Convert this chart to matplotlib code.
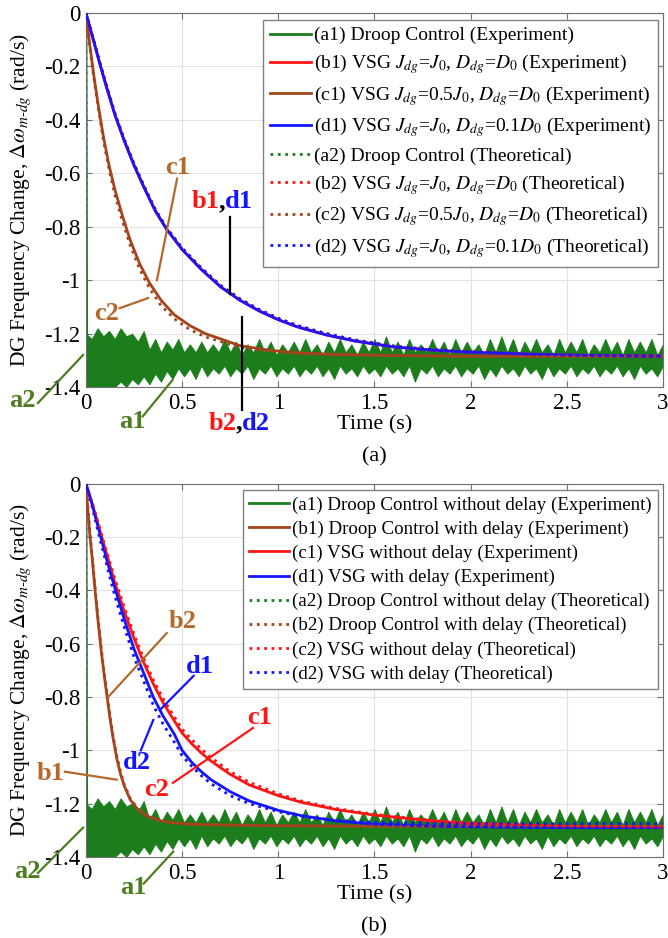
import numpy as np
import matplotlib
matplotlib.use("Agg")
import matplotlib.pyplot as plt

plt.rcParams['font.family'] = ['Liberation Serif', 'DejaVu Serif']
plt.rcParams['mathtext.fontset'] = 'stix'
plt.rcParams['axes.unicode_minus'] = False

# ---- data ----
# droop control experiment (same record in both panels): band envelope, 0.03 s step
a1_t = np.linspace(0, 3, 101)
a1_upper = [-1.20, -1.22, -1.18, -1.21, -1.19, -1.22, -1.18, -1.21, -1.20, -1.23, -1.19,
            -1.26, -1.22, -1.27, -1.23, -1.26, -1.22, -1.27, -1.24, -1.27, -1.23,
            -1.27, -1.24, -1.27, -1.22, -1.27, -1.23, -1.28, -1.24, -1.27, -1.22,
            -1.27, -1.23, -1.28, -1.24, -1.27, -1.23, -1.27, -1.22, -1.27, -1.24,
            -1.28, -1.23, -1.27, -1.22, -1.27, -1.24, -1.28, -1.23, -1.27, -1.22,
            -1.27, -1.21, -1.27, -1.23, -1.28, -1.22, -1.27, -1.24, -1.27, -1.22,
            -1.27, -1.23, -1.28, -1.22, -1.27, -1.23, -1.27, -1.24, -1.28, -1.22,
            -1.27, -1.21, -1.27, -1.22, -1.28, -1.23, -1.27, -1.22, -1.27, -1.24,
            -1.28, -1.22, -1.27, -1.23, -1.27, -1.22, -1.28, -1.24, -1.27, -1.22,
            -1.27, -1.23, -1.28, -1.22, -1.27, -1.23, -1.27, -1.22, -1.28, -1.24]
a1_lower = [-1.40, -1.40, -1.40, -1.40, -1.40, -1.40, -1.38, -1.40, -1.37, -1.39, -1.36,
            -1.39, -1.35, -1.38, -1.34, -1.37, -1.33, -1.36, -1.33, -1.37, -1.32,
            -1.36, -1.33, -1.35, -1.32, -1.36, -1.33, -1.35, -1.32, -1.37, -1.33,
            -1.35, -1.32, -1.36, -1.33, -1.35, -1.32, -1.36, -1.33, -1.35, -1.32,
            -1.36, -1.33, -1.37, -1.32, -1.35, -1.33, -1.36, -1.32, -1.35, -1.33,
            -1.36, -1.32, -1.35, -1.33, -1.36, -1.32, -1.38, -1.33, -1.35, -1.32,
            -1.36, -1.33, -1.35, -1.32, -1.36, -1.33, -1.35, -1.32, -1.37, -1.33,
            -1.36, -1.32, -1.35, -1.33, -1.36, -1.32, -1.35, -1.33, -1.37, -1.32,
            -1.36, -1.33, -1.35, -1.32, -1.36, -1.33, -1.35, -1.32, -1.36, -1.33,
            -1.35, -1.32, -1.36, -1.33, -1.37, -1.32, -1.35, -1.33, -1.36, -1.32]
a1_step_t = [0.0, 0.004]
a1_step_v = [0.0, -1.30]
a2_t = [0.0, 0.002, 3.0]
a2_v = [0.0, -1.285, -1.285]

# panel (a)
ta_bd = [0, 0.04, 0.076, 0.11, 0.15, 0.2, 0.25, 0.3, 0.36, 0.42, 0.5, 0.6, 0.7, 0.8, 0.9,
         1.0, 1.1, 1.25, 1.4, 1.6, 1.8, 2.0, 2.3, 2.6, 3.0]
a_b1 = [0, -0.105, -0.2, -0.285, -0.38, -0.48, -0.57, -0.65, -0.74, -0.81, -0.885, -0.96,
        -1.025, -1.075, -1.115, -1.148, -1.175, -1.205, -1.228, -1.25, -1.262, -1.27,
        -1.277, -1.282, -1.285]
a_d1 = a_b1
a_b2 = [0, -0.1, -0.195, -0.28, -0.375, -0.475, -0.565, -0.645, -0.735, -0.805, -0.88,
        -0.955, -1.02, -1.07, -1.11, -1.143, -1.17, -1.2, -1.224, -1.247, -1.26, -1.268,
        -1.276, -1.281, -1.284]
a_d2 = a_b2
ta_c = [0, 0.02, 0.04, 0.065, 0.09, 0.12, 0.15, 0.19, 0.23, 0.28, 0.33, 0.39, 0.46, 0.54,
        0.62, 0.7, 0.8, 0.95, 1.1, 1.3, 1.6, 2.0, 3.0]
a_c1 = [0, -0.12, -0.23, -0.35, -0.46, -0.57, -0.66, -0.76, -0.85, -0.94, -1.01, -1.075,
        -1.13, -1.17, -1.2, -1.22, -1.245, -1.262, -1.272, -1.278, -1.282, -1.285, -1.285]
a_c2 = [0, -0.125, -0.24, -0.36, -0.475, -0.585, -0.68, -0.78, -0.87, -0.96, -1.03, -1.095,
        -1.145, -1.185, -1.212, -1.23, -1.252, -1.266, -1.275, -1.28, -1.283, -1.285, -1.285]

# panel (b)
tb_b = [0, 0.01, 0.02, 0.035, 0.05, 0.065, 0.08, 0.095, 0.11, 0.125, 0.14, 0.16, 0.18,
        0.2, 0.23, 0.27, 0.32, 0.385, 0.45, 0.55, 0.7, 1.0, 1.5, 2.0, 3.0]
b_b1 = [0, -0.1, -0.19, -0.3, -0.42, -0.53, -0.63, -0.72, -0.8, -0.88, -0.95, -1.03,
        -1.09, -1.135, -1.185, -1.222, -1.248, -1.264, -1.272, -1.278, -1.28, -1.283,
        -1.285, -1.285, -1.285]
b_b2 = [0, -0.09, -0.18, -0.29, -0.41, -0.52, -0.62, -0.71, -0.79, -0.87, -0.94, -1.02,
        -1.08, -1.13, -1.18, -1.22, -1.246, -1.262, -1.27, -1.276, -1.279, -1.282,
        -1.284, -1.285, -1.285]
tb_cd = [0, 0.03, 0.07, 0.11, 0.15, 0.2, 0.25, 0.3, 0.35, 0.4, 0.46, 0.5, 0.55, 0.6, 0.65,
         0.75, 0.85, 1.0, 1.12, 1.3, 1.5, 1.8, 2.0, 2.5, 3.0]
b_c1 = [0, -0.07, -0.17, -0.27, -0.37, -0.48, -0.58, -0.67, -0.75, -0.82, -0.89, -0.935,
        -0.975, -1.01, -1.04, -1.09, -1.13, -1.17, -1.195, -1.222, -1.243, -1.265, -1.275,
        -1.286, -1.29]
b_c2 = [0, -0.065, -0.16, -0.26, -0.355, -0.465, -0.565, -0.655, -0.735, -0.805, -0.875,
        -0.92, -0.96, -0.995, -1.027, -1.08, -1.12, -1.163, -1.19, -1.218, -1.24, -1.262,
        -1.273, -1.284, -1.288]
b_d1 = [0, -0.07, -0.18, -0.29, -0.39, -0.51, -0.62, -0.71, -0.8, -0.87, -0.94, -1.0,
        -1.045, -1.08, -1.11, -1.155, -1.19, -1.225, -1.245, -1.265, -1.277, -1.284,
        -1.287, -1.29, -1.29]
b_d2 = [0, -0.08, -0.2, -0.31, -0.42, -0.54, -0.65, -0.74, -0.83, -0.9, -0.97, -1.02,
        -1.06, -1.095, -1.125, -1.17, -1.2, -1.23, -1.248, -1.262, -1.27, -1.274, -1.275,
        -1.275, -1.275]

labels_a = ['(a1) Droop Control (Experiment)',
            r'(b1) VSG $J_{dg}$=$J_0$, $D_{dg}$=$D_0$ (Experiment)',
            r'(c1) VSG $J_{dg}$=0.5$J_0$, $D_{dg}$=$D_0$ (Experiment)',
            r'(d1) VSG $J_{dg}$=$J_0$, $D_{dg}$=0.1$D_0$ (Experiment)',
            '(a2) Droop Control (Theoretical)',
            r'(b2) VSG $J_{dg}$=$J_0$, $D_{dg}$=$D_0$ (Theoretical)',
            r'(c2) VSG $J_{dg}$=0.5$J_0$, $D_{dg}$=$D_0$ (Theoretical)',
            r'(d2) VSG $J_{dg}$=$J_0$, $D_{dg}$=0.1$D_0$ (Theoretical)']
labels_b = ['(a1) Droop Control without delay (Experiment)',
            '(b1) Droop Control with delay (Experiment)',
            '(c1) VSG without delay (Experiment)',
            '(d1) VSG with delay (Experiment)',
            '(a2) Droop Control without delay (Theoretical)',
            '(b2) Droop Control with delay (Theoretical)',
            '(c2) VSG without delay (Theoretical)',
            '(d2) VSG with delay (Theoretical)']

x_ticks = [0, 0.5, 1, 1.5, 2, 2.5, 3]
x_ticklabels = ['0', '0.5', '1', '1.5', '2', '2.5', '3']
y_ticks = [-1.4, -1.2, -1.0, -0.8, -0.6, -0.4, -0.2, 0]
y_ticklabels = ['-1.4', '-1.2', '-1', '-0.8', '-0.6', '-0.4', '-0.2', '0']

GREEN = '#1b7d1b'
RED = '#ff1414'
BROWN = '#a4431c'
BLUE = '#1414ff'
TXT_BROWN = '#b4682a'
TXT_GREEN = '#4d7d1e'


def setup_axes(ax):
    ax.set_xlim(0, 3)
    ax.set_ylim(-1.4, 0)
    ax.set_xticks(x_ticks)
    ax.set_xticklabels(x_ticklabels)
    ax.set_yticks(y_ticks)
    ax.set_yticklabels(y_ticklabels)
    ax.tick_params(direction='in', top=True, right=True, labelsize=16.5,
                   color='#707070', length=4, pad=4)
    ax.grid(True, color='#e2e2e2', linewidth=0.8)
    for s in ax.spines.values():
        s.set_color('#707070')
    ax.set_xlabel('Time (s)', fontsize=16, labelpad=1)
    ax.set_ylabel(r'DG Frequency Change, $\Delta\omega_{m\text{-}dg}$ (rad/s)', fontsize=15.5)
    ax.yaxis.set_label_coords(-0.092, 0.5)


def draw_green(ax):
    ax.fill_between(a1_t, a1_lower, a1_upper, color=GREEN, linewidth=0.6, zorder=2)
    h1, = ax.plot(a1_step_t, a1_step_v, color=GREEN, lw=2, zorder=2)
    h2, = ax.plot(a2_t, a2_v, ':', color=GREEN, lw=2, zorder=1)
    return h1, h2


def pointer(ax, text, color, txy, p0, p1, size=19):
    ax.plot([p0[0], p1[0]], [p0[1], p1[1]], color=color, lw=1.6, clip_on=False, zorder=6)
    ax.text(txy[0], txy[1], text, color=color, fontsize=size, fontweight='bold',
            ha='center', va='center', clip_on=False, zorder=7)


def pair_label(ax, left, right, xy, size=19):
    ax.annotate(left, xy=xy, xytext=(-2, 0), textcoords='offset points', color=RED,
                fontsize=size, fontweight='bold', ha='right', va='center',
                annotation_clip=False)
    ax.annotate(',', xy=xy, color='black', fontsize=size, fontweight='bold',
                ha='center', va='center', annotation_clip=False)
    ax.annotate(right, xy=xy, xytext=(2, 0), textcoords='offset points', color=BLUE,
                fontsize=size, fontweight='bold', ha='left', va='center',
                annotation_clip=False)


fig = plt.figure(figsize=(6.68, 9.38), dpi=100)
ax1 = fig.add_axes([0.1287, 0.5874, 0.8638, 0.3987])
ax2 = fig.add_axes([0.1287, 0.0864, 0.8638, 0.3977])

# ---- panel (a) ----
g1, g2 = draw_green(ax1)
hb1, = ax1.plot(ta_bd, a_b1, color=RED, lw=2, zorder=3)
hc1, = ax1.plot(ta_c, a_c1, color=BROWN, lw=2, zorder=3)
hd1, = ax1.plot(ta_bd, a_d1, color=BLUE, lw=2, zorder=3)
hb2, = ax1.plot(ta_bd, a_b2, ':', color=RED, lw=2, zorder=4)
hc2, = ax1.plot(ta_c, a_c2, ':', color=BROWN, lw=2, zorder=4)
hd2, = ax1.plot(ta_bd, a_d2, ':', color=BLUE, lw=2, zorder=4)
setup_axes(ax1)
ax1.legend([g1, hb1, hc1, hd1, g2, hb2, hc2, hd2], labels_a, loc='upper right',
           bbox_to_anchor=(0.985, 0.9787), bbox_transform=fig.transFigure,
           fontsize=14, frameon=True, fancybox=False, edgecolor='#808080',
           framealpha=1, handlelength=2.1, handletextpad=0.15, labelspacing=0.4,
           borderpad=0.35, borderaxespad=0)

pointer(ax1, 'c1', TXT_BROWN, (0.478, -0.58), (0.474, -0.62), (0.369, -1.0))
pointer(ax1, 'c2', TXT_BROWN, (0.109, -1.123), (0.175, -1.105), (0.323, -1.067))
pair_label(ax1, 'b1', 'd1', (0.707, -0.707))
ax1.plot([0.749, 0.749], [-0.763, -1.05], color='black', lw=1.6, zorder=6)
pair_label(ax1, 'b2', 'd2', (0.796, -1.535))
ax1.plot([0.813, 0.813], [-1.138, -1.486], color='black', lw=1.6, clip_on=False, zorder=6)
pointer(ax1, 'a2', TXT_GREEN, (-0.333, -1.449), (-0.25, -1.46), (-0.015, -1.28))
pointer(ax1, 'a1', TXT_GREEN, (0.239, -1.53), (0.295, -1.51), (0.45, -1.374))
fig.text(0.56, 1 - 457 / 938, '(a)', fontsize=16, ha='center', va='center')

# ---- panel (b) ----
g1, g2 = draw_green(ax2)
hb1, = ax2.plot(tb_b, b_b1, color=BROWN, lw=2, zorder=3)
hc1, = ax2.plot(tb_cd, b_c1, color=RED, lw=2, zorder=3)
hd1, = ax2.plot(tb_cd, b_d1, color=BLUE, lw=2, zorder=3)
hb2, = ax2.plot(tb_b, b_b2, ':', color=BROWN, lw=2, zorder=4)
hc2, = ax2.plot(tb_cd, b_c2, ':', color=RED, lw=2, zorder=4)
hd2, = ax2.plot(tb_cd, b_d2, ':', color=BLUE, lw=2, zorder=4)
setup_axes(ax2)
ax2.legend([g1, hb1, hc1, hd1, g2, hb2, hc2, hd2], labels_b, loc='upper right',
           bbox_to_anchor=(0.985, 1 - 490 / 938), bbox_transform=fig.transFigure,
           fontsize=13.6, frameon=True, fancybox=False, edgecolor='#808080',
           framealpha=1, handlelength=2.1, handletextpad=0.15, labelspacing=0.36,
           borderpad=0.35, borderaxespad=0)

pointer(ax2, 'b2', TXT_BROWN, (0.5, -0.518), (0.42, -0.56), (0.115, -0.80))
pointer(ax2, 'd1', BLUE, (0.593, -0.687), (0.56, -0.72), (0.385, -0.848))
pointer(ax2, 'd2', BLUE, (0.265, -1.047), (0.285, -1.0), (0.35, -0.886))
pointer(ax2, 'c1', RED, (0.905, -0.878), (0.868, -0.916), (0.452, -1.122))
pointer(ax2, 'c2', RED, (0.369, -1.148), (0.369, -1.148), (0.369, -1.148))
pointer(ax2, 'b1', TXT_BROWN, (-0.185, -1.085), (-0.11, -1.08), (0.16, -1.11))
pointer(ax2, 'a2', TXT_GREEN, (-0.307, -1.456), (-0.25, -1.46), (-0.015, -1.29))
pointer(ax2, 'a1', TXT_GREEN, (0.245, -1.516), (0.3, -1.5), (0.454, -1.38))
fig.text(0.56, 1 - 927 / 938, '(b)', fontsize=16, ha='center', va='center')

fig.savefig('out.png', dpi=100)
